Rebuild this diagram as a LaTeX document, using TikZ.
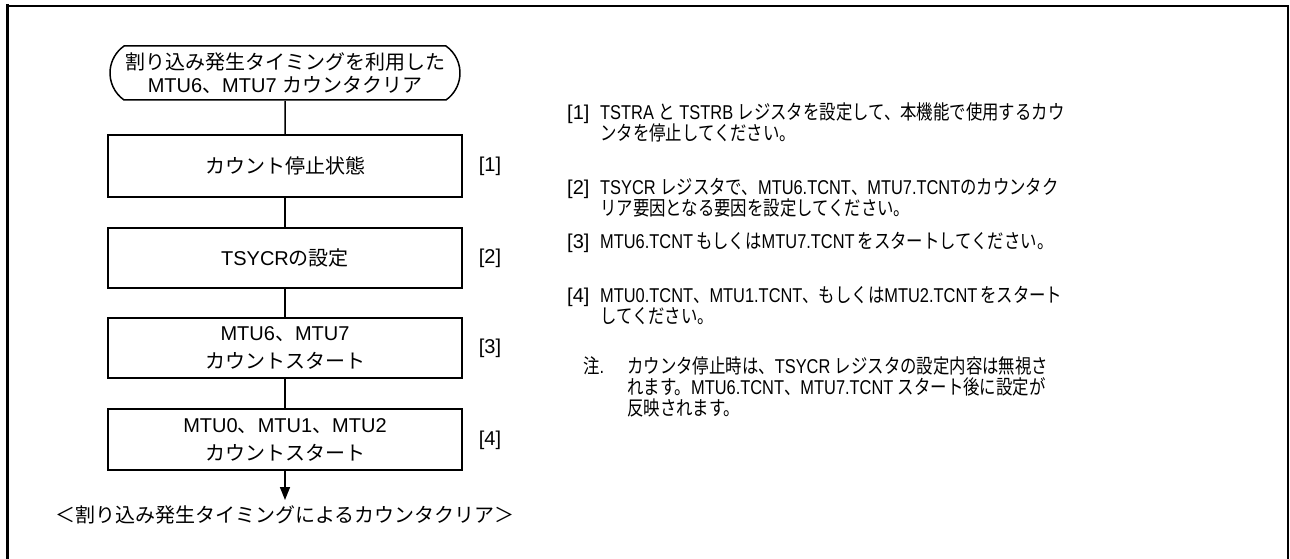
\documentclass[tikz,border=0pt]{standalone}
\usepackage{fontspec}
\usetikzlibrary{shapes.misc,arrows.meta}
\setmainfont{Liberation Sans}
\newfontfamily\cjkfont{Noto Sans CJK JP}
\newfontfamily\latN{Liberation Sans}[FakeStretch=0.82]
\newfontfamily\cjkN{Noto Sans CJK JP}[FakeStretch=0.82]
\newXeTeXintercharclass\jclass
\newcommand\setjrange[2]{\count255=#1\relax
  \loop\XeTeXcharclass\count255=\jclass
  \ifnum\count255<#2\relax\advance\count255 by 1\repeat}
\setjrange{"3000}{"30FF}
\setjrange{"4E00}{"9FFF}
\setjrange{"FF00}{"FFEF}
\def\curcjk{\cjkfont}\def\curlat{\rmfamily}
\XeTeXinterchartoks 0 \jclass = {\curcjk}
\XeTeXinterchartoks 4095 \jclass = {\curcjk}
\XeTeXinterchartoks \jclass 0 = {\curlat}
\XeTeXinterchartoks \jclass 4095 = {\curlat}
\XeTeXinterchartokenstate=1
\newcommand\leftfont{\fontsize{20}{28}\selectfont}
\newcommand\termfont{\fontsize{20}{23}\selectfont}
\newcommand\rightfont{\def\curcjk{\cjkN}\def\curlat{\latN}\latN\fontsize{20}{21}\selectfont}
\newcommand\tag[2]{\makebox[#1][l]{\rmfamily #2}}
\tikzset{
  flow/.style={line width=1.5pt},
  stepbox/.style={draw, flow, rectangle, minimum width=354pt, inner sep=0pt, align=center, font=\leftfont},
  termbox/.style={draw, flow, rounded rectangle, rounded rectangle arc length=110, minimum width=350pt, minimum height=54pt, inner sep=0pt, align=center, font=\termfont},
  lbl/.style={inner sep=0pt, font=\leftfont},
  rtext/.style={inner sep=0pt, anchor=west, align=left, font=\rightfont},
  frame/.style={line cap=rect}
}
\begin{document}
\begin{tikzpicture}[x=1pt,y=-1pt]
\useasboundingbox (0,0) rectangle (1290,559);
% frame
\draw[frame, line width=3pt] (7,559) -- (7,6);
\draw[frame, line width=2.5pt] (7,6) -- (1288,6);
\draw[frame, line width=1.5pt] (1288,6) -- (1288,559);
% flow
\node[termbox] (t) at (285,73) {割り込み発生タイミングを利用した\\MTU6、MTU7 カウンタクリア};
\node[stepbox, minimum height=62pt] (b1) at (285,166) {カウント停止状態};
\node[stepbox, minimum height=60pt] (b2) at (285,258) {TSYCRの設定};
\node[stepbox, minimum height=60pt] (b3) at (285,348) {MTU6、MTU7\\カウントスタート};
\node[stepbox, minimum height=61pt] (b4) at (285,439.5) {MTU0、MTU1、MTU2\\カウントスタート};
\coordinate (end) at (285,500);
\node[lbl, anchor=north] (res) at (285,505) {＜割り込み発生タイミングによるカウンタクリア＞};
\draw[flow] (t) -- (b1);
\draw[flow] (b1) -- (b2);
\draw[flow] (b2) -- (b3);
\draw[flow] (b3) -- (b4);
\draw[flow, -{Triangle[length=13pt,width=10pt]}] (b4) -- (end);
% step labels
\node[lbl] (l1) at (490,166) {[1]};
\node[lbl] (l2) at (490,258) {[2]};
\node[lbl] (l3) at (490,348) {[3]};
\node[lbl] (l4) at (490,440) {[4]};
% right notes
\node[rtext] (d1) at (567,122.5) {\tag{33pt}{[1]}TSTRA と TSTRB レジスタを設定して、本機能で使用するカウ\\\hspace*{33pt}ンタを停止してください。};
\node[rtext] (d2) at (567,198) {\tag{33pt}{[2]}TSYCR レジスタで、MTU6.TCNT、MTU7.TCNTのカウンタク\\\hspace*{33pt}リア要因となる要因を設定してください。};
\node[rtext] (d3) at (567,242) {\tag{33pt}{[3]}MTU6.TCNT\hspace{3pt}もしくはMTU7.TCNT\hspace{3pt}をスタートしてください。};
\node[rtext] (d4) at (567,305.5) {\tag{33pt}{[4]}MTU0.TCNT、MTU1.TCNT、もしくはMTU2.TCNT\hspace{3pt}をスタート\\\hspace*{33pt}してください。};
\node[rtext] (d5) at (583,387) {\tag{44pt}{注.}カウンタ停止時は、TSYCR レジスタの設定内容は無視さ\\\hspace*{44pt}れます。MTU6.TCNT、MTU7.TCNT スタート後に設定が\\\hspace*{44pt}反映されます。};
\end{tikzpicture}
\end{document}
